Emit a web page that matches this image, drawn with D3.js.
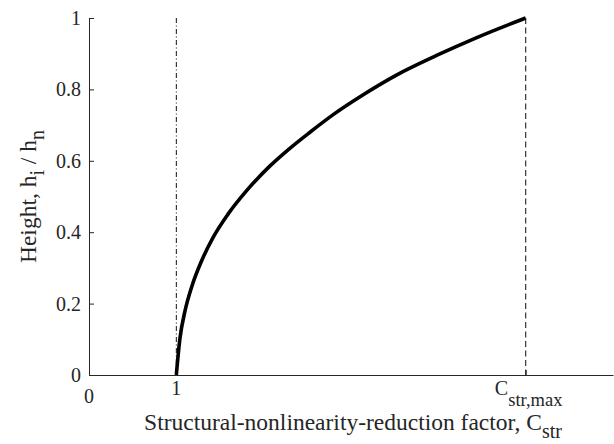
<!DOCTYPE html>
<html>
<head>
<meta charset="utf-8">
<script src="https://cdn.jsdelivr.net/npm/d3@7/dist/d3.min.js"></script>
<style>
  html, body { margin: 0; padding: 0; background: #fff; }
  svg { display: block; }
  text { font-family: "Liberation Serif", "Times New Roman", serif; fill: #262626; }
</style>
</head>
<body>
<svg id="chart" width="614" height="444"></svg>
<script>
// Normalised height h_i / h_n against the reduction factor C_str
const cStr = [1, 1.04, 1.10, 1.18, 1.29, 1.42, 1.59, 1.80, 2.07, 2.30, 2.53, 2.80, 3.14, 3.52, 3.98, 4.44, 5];
const heightRatio = [0, 0.10, 0.18, 0.25, 0.32, 0.385, 0.45, 0.515, 0.585, 0.635, 0.68, 0.73, 0.785, 0.84, 0.895, 0.945, 1];

// Reference abscissae: C_str = 1 and C_str,max
const cOne = 1;
const cMax = 5;

const yTicks = [0, 0.2, 0.4, 0.6, 0.8, 1];
const xTicks = [cOne, cMax];
const xTickMain = ["1", "C"];
const xTickSub = ["", "str,max"];

const xDomain = [0, 6];
const yDomain = [0, 1];

const svg = d3.select("#chart");
const axisColor = "#262626";
const serif = '"Liberation Serif", "Times New Roman", serif';

const x = d3.scaleLinear().domain(xDomain).range([89, 613]);
const y = d3.scaleLinear().domain(yDomain).range([375, 18]);

// Vertical guides
svg.append("line")
  .attr("x1", x(cOne)).attr("x2", x(cOne))
  .attr("y1", y(1)).attr("y2", y(0))
  .attr("stroke", "#111").attr("stroke-width", 1)
  .attr("stroke-dasharray", "5,2.5,1,2.5");

svg.append("line")
  .attr("x1", x(cMax)).attr("x2", x(cMax))
  .attr("y1", y(1)).attr("y2", y(0))
  .attr("stroke", "#333").attr("stroke-width", 1.2)
  .attr("stroke-dasharray", "6,3.5");

// Axes
const yAxis = d3.axisLeft(y)
  .tickValues(yTicks)
  .tickFormat(d => d3.format("~g")(d))
  .tickSizeInner(-5).tickSizeOuter(0).tickPadding(8);

const gy = svg.append("g").attr("transform", `translate(${x(0)},0)`).call(yAxis)
  .attr("font-family", serif).attr("font-size", 20);
gy.selectAll("path, line").attr("stroke", axisColor);
gy.selectAll("text").attr("fill", axisColor);

const xAxis = d3.axisBottom(x)
  .tickValues(xTicks)
  .tickFormat("")
  .tickSizeInner(-5).tickSizeOuter(0);

const gx = svg.append("g").attr("transform", `translate(0,${y(0)})`).call(xAxis);
gx.selectAll("path, line").attr("stroke", axisColor);

// x tick labels with subscripts
xTicks.forEach((v, i) => {
  const t = svg.append("text")
    .attr("x", x(v) + (xTickSub[i] ? 3 : 0))
    .attr("y", 395)
    .attr("text-anchor", "middle")
    .attr("font-size", 20);
  t.append("tspan").text(xTickMain[i]);
  if (xTickSub[i]) {
    t.append("tspan").attr("dy", 11).attr("font-size", 18.5).text(xTickSub[i]);
  }
});

// Origin label, set lower than the others
svg.append("text")
  .attr("x", x(0)).attr("y", 403)
  .attr("text-anchor", "middle")
  .attr("font-size", 20)
  .text("0");

// Curve
const line = d3.line()
  .x((d, i) => x(cStr[i]))
  .y(d => y(d))
  .curve(d3.curveMonotoneX);

svg.append("path")
  .datum(heightRatio)
  .attr("fill", "none")
  .attr("stroke", "#000")
  .attr("stroke-width", 3.6)
  .attr("stroke-linejoin", "round")
  .attr("d", line);

// Axis titles
const xl = svg.append("text")
  .attr("x", 353).attr("y", 430)
  .attr("text-anchor", "middle")
  .attr("font-size", 23.5);
xl.append("tspan").text("Structural-nonlinearity-reduction factor, C");
xl.append("tspan").attr("dy", 8).attr("font-size", 20).text("str");

const yl = svg.append("text")
  .attr("transform", `translate(36,${(y(0) + y(1)) / 2}) rotate(-90)`)
  .attr("text-anchor", "middle")
  .attr("font-size", 23.5);
yl.append("tspan").text("Height, h");
yl.append("tspan").attr("dy", 8).attr("font-size", 20).text("i");
yl.append("tspan").attr("dy", -8).text(" / h");
yl.append("tspan").attr("dy", 8).attr("font-size", 20).text("n");
</script>
</body>
</html>
